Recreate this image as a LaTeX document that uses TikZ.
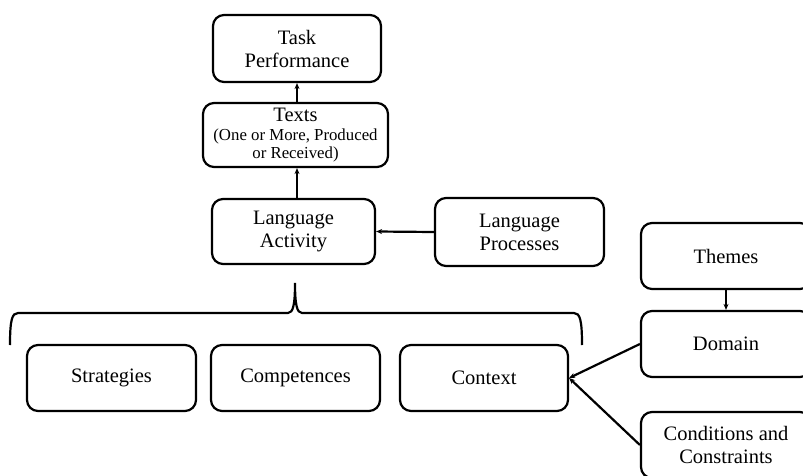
\documentclass[tikz,border=0pt]{standalone}
\usepackage{fontspec}
\setmainfont{Liberation Serif}
\usetikzlibrary{arrows.meta}
\begin{document}
\begin{tikzpicture}[x=1pt,y=-1pt,
  box/.style={draw,line width=2.2pt,rounded corners=11pt,align=center,font=\fontsize{20.5}{23}\selectfont},
  arr/.style={line width=2.2pt,-{Stealth[length=6pt,width=5pt]}}]
\useasboundingbox (0,0) rectangle (803,476);
\node[box,minimum width=168pt,minimum height=67pt] (task) at (297,48.5) {Task\\Performance};
\node[box,minimum width=185pt,minimum height=64pt,inner sep=0pt] (texts) at (295.5,135)
  {\fontsize{16.8}{18.5}\selectfont\setlength{\tabcolsep}{0pt}%
   \begin{tabular}{c}\fontsize{20.5}{20}\selectfont Texts\rule{0pt}{16pt}\\
   (One or More, Produced\\ or Received)\end{tabular}};
\node[box,minimum width=163pt,minimum height=65pt] (act) at (293.5,231.5) {Language\\Activity};
\node[box,minimum width=169pt,minimum height=68pt] (proc) at (519.5,232) {Language\\Processes};
\node[box,minimum width=170pt,minimum height=66pt] (themes) at (726,256) {Themes};
\node[box,minimum width=170pt,minimum height=66pt] (domain) at (726,344) {Domain};
\node[box,minimum width=170pt,minimum height=66pt] (cond) at (726,445) {Conditions and\\Constraints};
\node[box,minimum width=169pt,minimum height=66pt] (strat) at (111.5,378) {Strategies};
\node[box,minimum width=169pt,minimum height=66pt] (comp) at (295.5,378) {Competences};
\node[box,minimum width=168pt,minimum height=66pt] (ctx) at (484,378) {Context};
\draw[arr] (texts.north -| task.south) -- (task.south);
\draw[arr] (act.north -| task.south) -- (texts.south -| task.south);
\draw[arr] (proc.west) -- (act.east);
\draw[arr] (themes.south) -- (domain.north);
\draw[arr] (domain.west) -- (ctx.east);
\draw[arr] (cond.west) -- (ctx.east);
\coordinate (bl) at (10,345);
\coordinate (br) at (582,345);
\draw[line width=2.2pt] (bl) .. controls (10,320) and (12,313) .. (18,313) -- (288,313)
  .. controls (293,313) and (295,305) .. (295,283)
  .. controls (295,305) and (297,313) .. (302,313) -- (574,313)
  .. controls (580,313) and (582,320) .. (br);
\end{tikzpicture}
\end{document}
